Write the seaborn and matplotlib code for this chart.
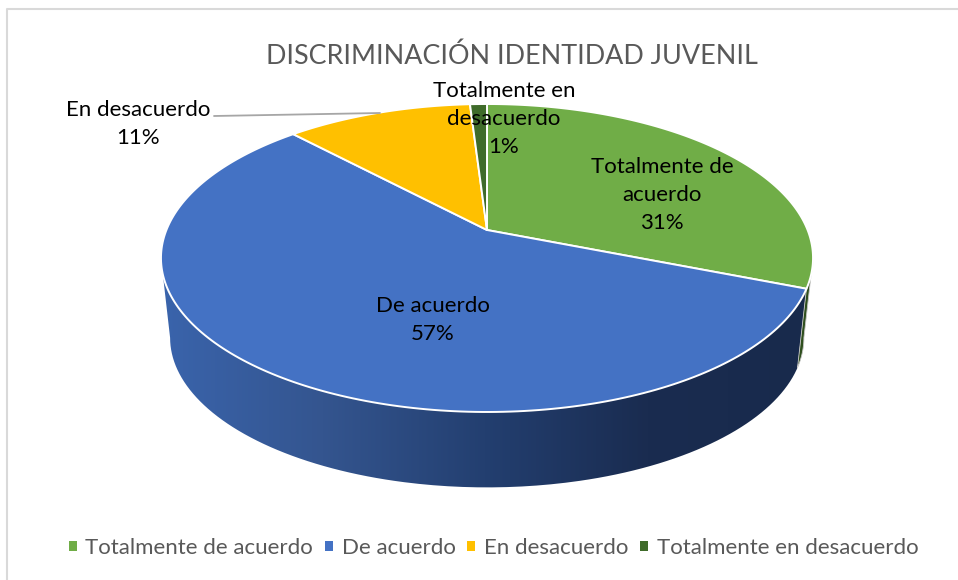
import numpy as np
import matplotlib.pyplot as plt
import seaborn as sns
from matplotlib.patches import Patch, PathPatch, Polygon
from matplotlib.path import Path
from matplotlib.colors import LinearSegmentedColormap

# values of the chart
categories = ["Totalmente de acuerdo", "De acuerdo", "En desacuerdo", "Totalmente en desacuerdo"]
shares = [31, 57, 11, 1]
label_texts = ["Totalmente de\nacuerdo", "De acuerdo", "En desacuerdo", "Totalmente en\ndesacuerdo"]
title = "DISCRIMINACIÓN IDENTIDAD JUVENIL"

palette = sns.color_palette(["#70AD47", "#4472C4", "#FFC000", "#3F6B2A"])
label_xy = [(662, 195), (433, 320), (138, 124), (504, 119)]

# projection of the tilted disc, in pixels of the picture
CX, CY = 487, 230
A, B, K = 320.6, 148.9, 0.1818
DEPTH, SHRINK = 80.5, 0.972
# angles where the outline of the disc is widest
RIGHT_EDGE, LEFT_EDGE = np.radians(100.5), np.radians(259.5)

sns.set_theme(style="white")
plt.rcParams["font.family"] = ["Lato", "DejaVu Sans"]


def project(theta, bottom=False):
    """Clockwise angle from the top of the disc to picture x, y."""
    u, v = np.sin(theta), np.cos(theta)
    w = 1 + K * v
    x, y = A * u / w, -B * v / w
    if bottom:
        return CX + SHRINK * x, CY + DEPTH + SHRINK * y
    return CX + x, CY + y


def side_polygon(t0, t1):
    t = np.linspace(t0, t1, 200)
    xt, yt = project(t)
    xb, yb = project(t[::-1], bottom=True)
    return np.column_stack([np.r_[xt, xb], np.r_[yt, yb]])


fig = plt.figure(figsize=(9.58, 5.80), dpi=100)
ax = fig.add_axes([0, 0, 1, 1])
ax.set_xlim(0, 958)
ax.set_ylim(580, 0)
ax.axis("off")

# chart frame, open to the right and bottom of the crop
ax.plot([7.5, 7.5, 958], [580, 8.5, 8.5], color="#D9D9D9", lw=1.5, zorder=1)

edges = 2 * np.pi * np.cumsum([0] + shares) / sum(shares)

# side wall: blue with a horizontal shade, then the sliver of green
wall = PathPatch(Path(side_polygon(edges[1], LEFT_EDGE)), fc="none", ec="none")
ax.add_patch(wall)
shade = LinearSegmentedColormap.from_list(
    "wall", ["#3A64AC", "#34558F", "#233F70", "#1A2C50", "#182A4C"])
img = ax.imshow(np.linspace(0, 1, 256)[None, :], cmap=shade, aspect="auto",
                extent=[160, 810, 500, 250], zorder=2)
img.set_clip_path(wall)
ax.set_xlim(0, 958)
ax.set_ylim(580, 0)
ax.add_patch(Polygon(side_polygon(RIGHT_EDGE, edges[1]), fc="#2F4F1E", ec="#C8C8C8",
                     lw=0.6, zorder=2))

# top faces
for i, share in enumerate(shares):
    t = np.linspace(edges[i], edges[i + 1], 200)
    x, y = project(t)
    ax.add_patch(Polygon(np.column_stack([np.r_[CX, x], np.r_[CY, y]]), fc=palette[i],
                         ec="white", lw=1.4, joinstyle="round", zorder=3))

# data labels
for text, share, (lx, ly) in zip(label_texts, shares, label_xy):
    ax.text(lx, ly, f"{text}\n{share}%", ha="center", va="center", fontsize=16,
            linespacing=1.52, color="black", zorder=5)

ax.plot([214, 380], [116, 113], color="#A6A6A6", lw=1.3, zorder=4)

ax.text(512, 56, title, ha="center", va="center", fontsize=19.4, color="#595959")

handles = [Patch(fc=c, ec="none") for c in palette]
ax.legend(handles, categories, loc="center", bbox_to_anchor=(493.5, 548),
          bbox_transform=ax.transData, ncol=4, frameon=False, fontsize=16,
          labelcolor="#595959", handlelength=0.36, handleheight=0.36,
          handletextpad=0.4, columnspacing=0.52)

fig.savefig("out.png", dpi=100)
